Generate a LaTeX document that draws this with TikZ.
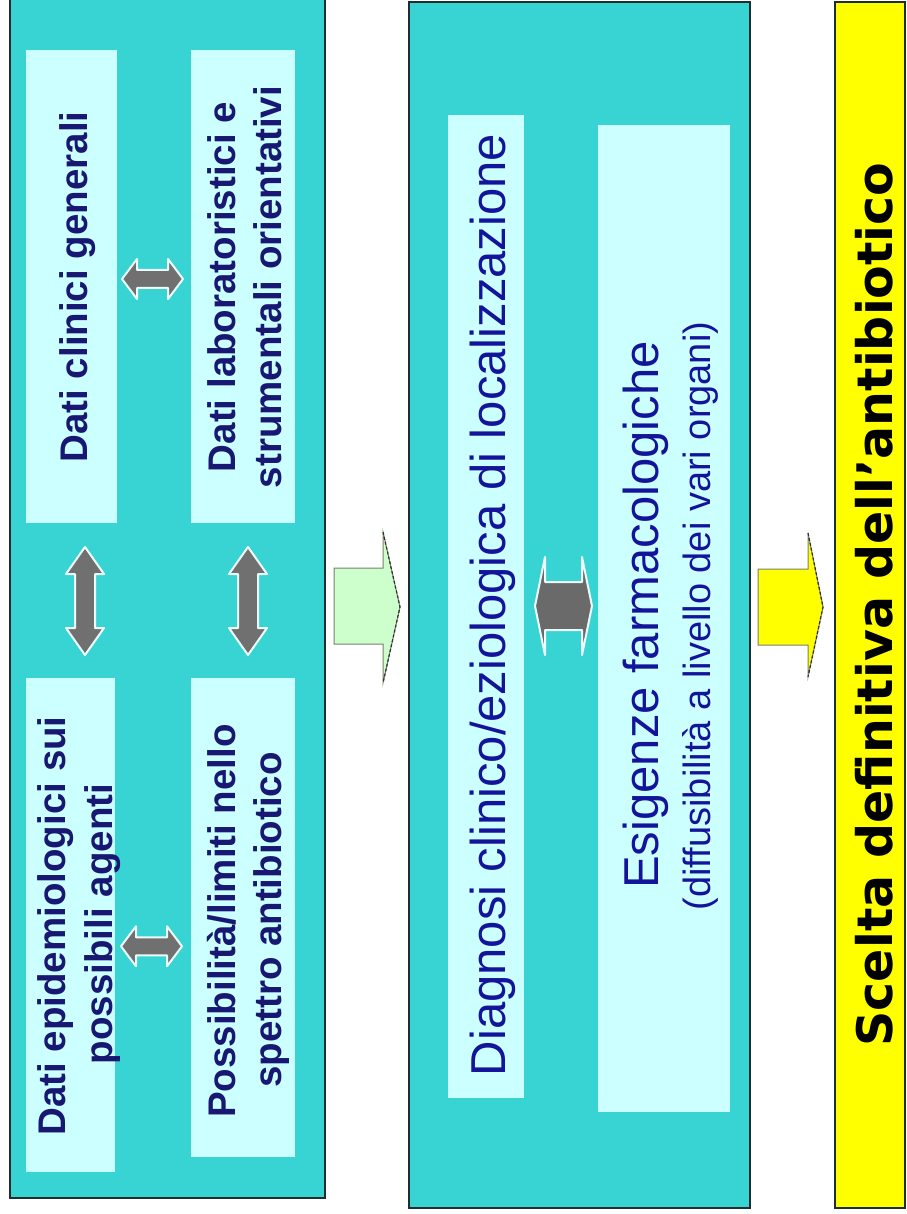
\documentclass[tikz,border=0pt]{standalone}
\usepackage{fontspec}
\setmainfont{Liberation Sans}
\newfontfamily\dvs{DejaVu Sans}
\usetikzlibrary{calc}
\definecolor{teal1}{RGB}{56,212,212}
\definecolor{ltcyan}{RGB}{204,255,255}
\definecolor{navy1}{RGB}{24,24,115}
\definecolor{blue1}{RGB}{20,20,155}
\definecolor{agray}{RGB}{112,112,112}
\definecolor{ltgreen}{RGB}{204,255,204}
\definecolor{yel}{RGB}{255,255,0}
\definecolor{edge}{RGB}{30,45,50}
\definecolor{aedge}{RGB}{120,130,100}
\begin{document}
\begin{tikzpicture}[x=1pt,y=-1pt,
  panel/.style={draw=edge, line width=1.5pt, fill=teal1, inner sep=0pt, outer sep=0pt},
  inbox/.style={fill=ltcyan, draw=none, inner sep=0pt, outer sep=0pt},
  ltext/.style={rotate=90, anchor=base, inner sep=0pt, text=navy1,
    font=\fontsize{38.5}{46}\selectfont\bfseries},
  mtext/.style={rotate=90, anchor=base, inner sep=0pt, text=blue1,
    font=\fontsize{49}{58}\selectfont},
  stext/.style={rotate=90, anchor=base, inner sep=0pt, text=blue1,
    font=\fontsize{38}{46}\selectfont},
  ytext/.style={rotate=90, anchor=base, inner sep=0pt, text=black,
    font=\dvs\fontsize{49}{58}\selectfont\bfseries},
  garrow/.style={fill=agray, draw=white!92!teal1, line width=2pt, line join=round},
  blockarrow/.style={draw=aedge, line width=1pt},
  headedge/.style={draw=black!80, dashed, dash pattern=on 3pt off 2pt, line width=1.2pt},
  hdbl/.pic={\path[garrow] (-30.5,0) -- (-15.5,-20) -- (-15.5,-9) -- (15.5,-9) -- (15.5,-20)
      -- (30.5,0) -- (15.5,20) -- (15.5,9) -- (-15.5,9) -- (-15.5,20) -- cycle;},
  vdbl/.pic={\path[garrow] (0,-54) -- (19,-27) -- (10,-27) -- (10,27) -- (19,27)
      -- (0,54) -- (-19,27) -- (-10,27) -- (-10,-27) -- (-19,-27) -- cycle;},
  mdbl/.pic={\path[garrow, fill=agray!95!black] (-28.5,0) -- (-18.5,-49) -- (-18.5,-24) -- (18.5,-24) -- (18.5,-49)
      -- (28.5,0) -- (18.5,49) -- (18.5,24) -- (-18.5,24) -- (-18.5,49) -- cycle;}
]
\useasboundingbox (0,0) rectangle (906,1214);
\fill[white] (0,0) rectangle (906,1214);

% panels
\node[panel, minimum width=315pt, minimum height=1203pt] (p1) at (167.5,596.5) {};
\node[panel, minimum width=341pt, minimum height=1206pt] (p2) at (579.5,605) {};
\node[panel, fill=yel, minimum width=70pt, minimum height=1206pt] (p3) at (870,605) {};

% left inner boxes
\node[inbox, minimum width=91pt, minimum height=473pt] (b1) at (71.5,286.5) {};
\node[inbox, minimum width=104pt, minimum height=473pt] (b2) at (243,286.5) {};
\node[inbox, minimum width=89pt, minimum height=494pt] (b3) at (70.5,925) {};
\node[inbox, minimum width=104pt, minimum height=479pt] (b4) at (243,917.5) {};

% middle inner boxes
\node[inbox, minimum width=76pt, minimum height=983pt] (b5) at (486,606.5) {};
\node[inbox, minimum width=132pt, minimum height=987pt] (b6) at (664,618.5) {};

% texts
\node[ltext] (t1) at (87,287) {Dati clinici generali};
\node[ltext] (t2a) at (235,287) {Dati laboratoristici e};
\node[ltext] (t2b) at (281,287) {strumentali orientativi};
\node[ltext] (t3a) at (65,926) {Dati epidemiologici sui};
\node[ltext] (t3b) at (112,924) {possibili agenti};
\node[ltext] (t4a) at (235,921) {Possibilità/limiti nello};
\node[ltext] (t4b) at (281,920) {spettro antibiotico};

\node[mtext] (t5) at (505,605) {Diagnosi clinico/eziologica di localizzazione};
\node[mtext] (t6) at (658,615) {Esigenze farmacologiche};
\node[stext] (t7) at (710,616) {(diffusibilità a livello dei vari organi)};

\node[ytext] (t8) at (892,604.5) {Scelta definitiva dell’antibiotico};

% gray double arrows
\coordinate (a12) at ($(b1.east)!0.5!(b2.west)+(-1.5,-7.5)$);
\coordinate (a34) at ($(b3.east)!0.5!(b4.west)+(-1.5,25)$);
\coordinate (a13) at (85,601);
\coordinate (a24) at (248,601);
\coordinate (a56) at (563.5,606);
\pic at (a12) {hdbl};
\pic at (a34) {hdbl};
\pic at (a13) {vdbl};
\pic at (a24) {vdbl};
\pic at (a56) {mdbl};

% block arrows between panels
\coordinate (ga) at (334,607);
\path[blockarrow, fill=ltgreen] (ga) ++(0,-39) -- ++(49,0) -- ++(0,-36) -- (400,607)
   -- (383,683) -- (383,644) -- (334,644) -- cycle;
\draw[headedge] (383,532) -- (400,607) -- (383,683);

\coordinate (ya) at (758,607);
\path[blockarrow, fill=yel] (ya) ++(0,-38) -- ++(50,0) -- ++(0,-36) -- (823,607)
   -- (808,677) -- (808,645) -- (758,645) -- cycle;
\draw[headedge] (808,533) -- (823,607) -- (808,677);
\end{tikzpicture}
\end{document}
